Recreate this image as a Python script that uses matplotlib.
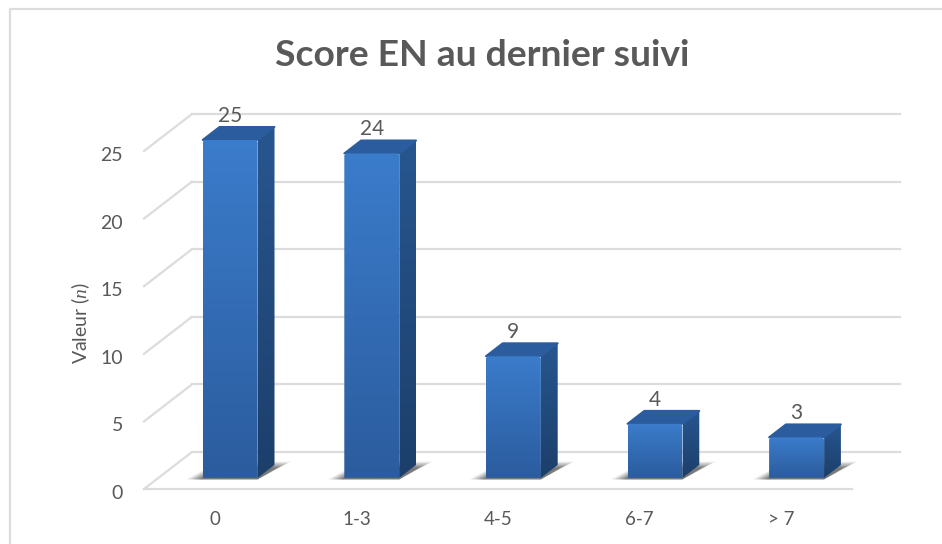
import numpy as np
import matplotlib
matplotlib.use("Agg")
import matplotlib.pyplot as plt
from matplotlib.patches import Polygon
from matplotlib.colors import LinearSegmentedColormap
from matplotlib.transforms import ScaledTranslation

categories = ["0", "1-3", "4-5", "6-7", "> 7"]
values = [25, 24, 9, 4, 3]
y_ticks = [0, 5, 10, 15, 20, 25]

W, H = 942, 544
GRAY = "#595959"
GRID = "#dcdcdc"

plt.rcParams["font.family"] = ["Lato", "DejaVu Sans"]
plt.rcParams["mathtext.fontset"] = "custom"
plt.rcParams["mathtext.it"] = "Liberation Serif:italic"
plt.rcParams["mathtext.rm"] = "Lato"

fig = plt.figure(figsize=(W / 100, H / 100), dpi=100)
fig.patch.set_facecolor("white")

# axes = front plane of the 3d box, 144..852 px wide, value 0 at y=489, 25 at y=151
ax = fig.add_axes([144 / W, 1 - 489 / H, 708 / W, 338 / H])
ax.set_xlim(-0.5, 4.5)
ax.set_ylim(0, 25)
for s in ax.spines.values():
    s.set_visible(False)
ax.patch.set_visible(False)

# size of one pixel in data units
PX = 5 / 708
PY = 25 / 338

# depth vector of the whole box, in data units
DX = 48 * PX
DY = 37 * PY
BAR_W = 55 * PX
D0, D1 = 0.30, 0.65


def proj(x, y, d):
    return x + DX * d, y + DY * d


def gradient_poly(pts, top, bottom, zorder):
    """fills a polygon with a vertical gradient, clipped to its outline"""
    cmap = LinearSegmentedColormap.from_list("g", [top, bottom])
    pts = np.array(pts)
    grad = np.linspace(0, 1, 128).reshape(-1, 1)
    im = ax.imshow(grad, cmap=cmap, aspect="auto", zorder=zorder,
                   extent=(pts[:, 0].min(), pts[:, 0].max(), pts[:, 1].min(), pts[:, 1].max()))
    clip = Polygon(pts, closed=True, transform=ax.transData, fill=False, edgecolor="none")
    ax.add_patch(clip)
    im.set_clip_path(clip)
    im.set_clip_box(fig.bbox)  # otherwise the axes box cuts the tallest bars


# grid
for t in y_ticks:
    x0, y0 = proj(-0.5, t, 1)
    x1, y1 = proj(4.5, t, 1)
    ax.plot([x0, x1], [y0, y1], color=GRID, lw=1.6, zorder=1, clip_on=False)
    xa, ya = proj(-0.5, t, 0)
    ax.plot([xa, x0], [ya, y0], color=GRID, lw=1.6, zorder=1, clip_on=False)
x0, y0 = proj(-0.5, 0, 0)
x1, y1 = proj(4.5, 0, 0)
ax.plot([x0, x1], [y0, y1], color=GRID, lw=1.6, zorder=1, clip_on=False)

for i, v in enumerate(values):
    left = proj(i - BAR_W / 2, 0, D0)[0] + 1 * PX
    right = left + BAR_W
    base = DY * D0
    top = base + v
    ddx = DX * (D1 - D0)
    ddy = DY * (D1 - D0)

    # floor shadow, soft layers
    for k, a in zip([1.0, 0.8, 0.6, 0.4, 0.2], [0.12, 0.16, 0.2, 0.24, 0.28]):
        sx = 16 * PX * k
        ax.add_patch(Polygon([(left - sx, base - 1.5 * PY), (right, base - 1.5 * PY),
                              (right + ddx + sx, base + ddy * (0.7 + 0.55 * k)),
                              (left + ddx, base + ddy * (0.7 + 0.55 * k))],
                             closed=True, facecolor="#3a3a3a", edgecolor="none",
                             alpha=a, zorder=2, clip_on=False))

    # side, top, front faces
    gradient_poly([(right, base), (right + ddx, base + ddy), (right + ddx, top + ddy), (right, top)],
                  "#27568f", "#1c3f6b", 3)
    ax.add_patch(Polygon([(left, top), (right, top), (right + ddx, top + ddy), (left + ddx, top + ddy)],
                         closed=True, facecolor="#2a5c9e", edgecolor="#2a5c9e", lw=1.4,
                         joinstyle="round", zorder=4, clip_on=False))
    # front face with slightly cut top corners
    cx, cy = 2 * PX, 2 * PY
    gradient_poly([(left, base), (right, base), (right, top - cy), (right - cx, top),
                   (left + cx, top), (left, top - cy)],
                  "#3b7ccb", "#2b5c9e", 5)

    ax.text(i + DX * 0.32, top + DY * 0.35 + 1 * PY, str(v), ha="center", va="bottom",
            fontsize=15, color=GRAY, zorder=6, clip_on=False)

ax.set_xlim(-0.5, 4.5)
ax.set_ylim(0, 25)
ax.set_xticks(range(len(categories)))
ax.set_xticklabels(categories, fontsize=13.5, color=GRAY)
ax.set_yticks(y_ticks)
ax.set_yticklabels([str(t) for t in y_ticks], fontsize=14, color=GRAY)
ax.tick_params(axis="both", length=0)
ax.tick_params(axis="x", pad=16)
ax.tick_params(axis="y", pad=15)
shift = ScaledTranslation(0, -3 / 100, fig.dpi_scale_trans)
for lab in ax.get_yticklabels():
    lab.set_transform(lab.get_transform() + shift)

fig.text(81 / W, 1 - 323 / H, r"Valeur ($\mathit{n}$)", rotation=90, ha="center", va="center",
         fontsize=14, color=GRAY)
fig.text(482 / W, 1 - 56 / H, "Score EN au dernier suivi", ha="center", va="center",
         fontsize=26.8, fontweight="bold", color=GRAY)

# outer chart frame, open on the right
fig.add_artist(plt.Line2D([9.5 / W, 9.5 / W, 1], [0, 1 - 8.5 / H, 1 - 8.5 / H], color=GRID, lw=1.6))

fig.savefig("out.png", dpi=100)
